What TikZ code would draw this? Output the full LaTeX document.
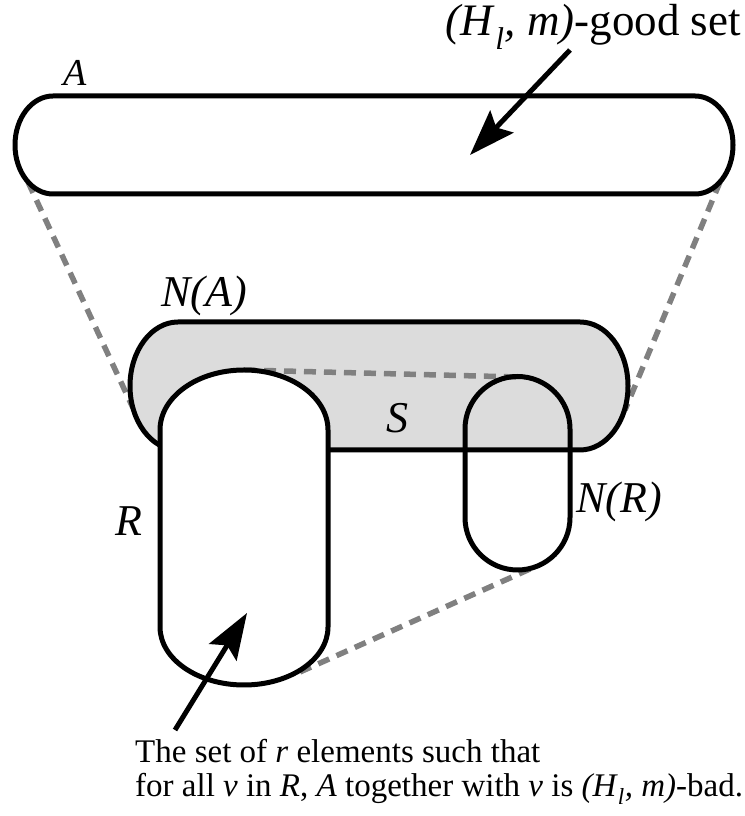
\documentclass[tikz,border=0pt]{standalone}
\usepackage{fontspec}
\setmainfont{Liberation Serif}[ItalicFont={Liberation Serif Italic}]
\usetikzlibrary{arrows.meta}
\definecolor{dashgrey}{HTML}{808080}
\definecolor{setgrey}{HTML}{DCDCDC}
\begin{document}
\begin{tikzpicture}[x=1pt,y=1pt,
  outline/.style={line width=5pt, line join=round},
  guide/.style={draw=dashgrey, line width=5.5pt, dash pattern=on 12pt off 8pt},
  pointer/.style={line width=5pt, -{Stealth[length=46pt,width=32pt,inset=8pt]}},
  lbl/.style={inner sep=0pt, font=\fontsize{44}{48}\selectfont\itshape},
  captxt/.style={inner sep=0pt, anchor=base west, font=\fontsize{33}{35}\selectfont},
  ]
\useasboundingbox (0,0) rectangle (744,816);

% anchor points
\coordinate (aL) at (28,634);
\coordinate (naL) at (133,408);
\coordinate (aR) at (720,634);
\coordinate (naR) at (625,406);
\coordinate (rTop) at (244,446);
\coordinate (nrTop) at (517,439);
\coordinate (rBot) at (300,144);
\coordinate (nrBot) at (530,247);
\coordinate (topTail) at (570,766);
\coordinate (topTip) at (470,661);
\coordinate (botTail) at (175,86);
\coordinate (botTip) at (247,203);

% dashed guides from A to N(A)
\draw[guide] (aL) -- (naL);
\draw[guide] (aR) -- (naR);

% N(A)
\draw[outline, fill=setgrey] (178,494) -- (580,494) arc(90:-90:48 and 64) -- (178,366) arc(270:90:48 and 64) -- cycle;

% dashed guides from R to N(R)
\draw[guide] (rTop) -- (nrTop);
\draw[guide] (rBot) -- (nrBot);

% R
\draw[outline, fill=white] (160,386) arc(180:0:84 and 60) -- (328,189) arc(0:-180:84 and 58) -- cycle;

% N(R)
\draw[outline] (465,387) arc(180:0:52.5) -- (570,298.5) arc(0:-180:52.5) -- cycle;

% A
\draw[outline] (53,720) -- (695,720) arc(90:-90:38 and 49) -- (53,622) arc(270:90:38 and 49) -- cycle;

% arrows
\draw[pointer] (topTail) -- (topTip);
\draw[pointer] (botTail) -- (botTip);

% labels
\node[lbl, font=\fontsize{38}{40}\selectfont\itshape] (labA) at (75,743) {A};
\node[lbl] (labNA) at (204,520) {N(A)};
\node[lbl] (labS) at (397,398) {S};
\node[lbl] (labR) at (129,295) {R};
\node[lbl] (labNR) at (619,314) {N(R)};
\node[inner sep=0pt, anchor=base east, font=\fontsize{45}{48}\selectfont] (good) at (741,780)
  {\textit{(H}\textsubscript{\textit{l}}\textit{, m)}-good set};
\node[captxt] (cap1) at (135,53) {The set of \textit{r} elements such that};
\node[captxt] (cap2) at (135,19) {for all \textit{v} in \textit{R}, \textit{A} together with \textit{v} is \textit{(H}\textsubscript{\textit{l}}\textit{, m)}-bad.};
\end{tikzpicture}
\end{document}
